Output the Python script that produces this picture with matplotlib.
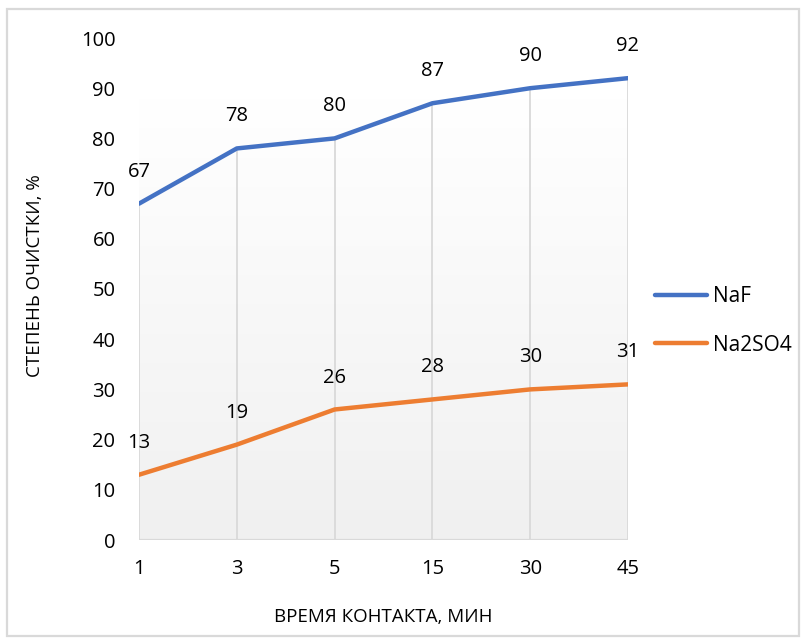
import numpy as np
import matplotlib
matplotlib.use("Agg")
import matplotlib.pyplot as plt
from matplotlib.patches import Rectangle

# Data
contact_time = ["1", "3", "5", "15", "30", "45"]
naf = [67, 78, 80, 87, 90, 92]
na2so4 = [13, 19, 26, 28, 30, 31]
y_ticks = [0, 10, 20, 30, 40, 50, 60, 70, 80, 90, 100]

BLUE = "#4472C4"
ORANGE = "#ED7D31"
GRID = "#d9d9d9"

plt.rcParams["font.family"] = ["Open Sans", "DejaVu Sans"]

W, H = 803, 640
fig = plt.figure(figsize=(W / 100, H / 100), dpi=100)

# outer chart border
fig.patches.append(Rectangle((7 / W, 4 / H), 792 / W, 627 / H, transform=fig.transFigure,
                             fill=False, edgecolor=GRID, linewidth=1.6))

x0, x1 = 139, 628
y_top, y_bot = 38, 540
ax = fig.add_axes([x0 / W, 1 - y_bot / H, (x1 - x0) / W, (y_bot - y_top) / H])

x = np.arange(len(contact_time))

# soft vertical gradient behind the series (white at top to light gray at bottom)
grad = np.linspace(1.0, 0.0, 256).reshape(-1, 1)
top_c = np.array([1.0, 1.0, 1.0])
bot_c = np.array([0xf0, 0xf0, 0xf0]) / 255
img = top_c * grad[..., None] + bot_c * (1 - grad[..., None])
ax.imshow(img, extent=[x[0], x[-1], 0, 88], aspect="auto", origin="upper", zorder=0)
ax.set_xlim(x[0], x[-1])
ax.set_ylim(0, 100)

# drop lines from the upper series down to the axis
ax.vlines(x, 0, naf, colors=GRID, linewidth=1.3, zorder=1)
ax.axhline(0, color=GRID, linewidth=1.6, zorder=1)

l1, = ax.plot(x, naf, color=BLUE, linewidth=3.2, solid_capstyle="round", label="NaF", zorder=3)
l2, = ax.plot(x, na2so4, color=ORANGE, linewidth=3.2, solid_capstyle="round", label="Na2SO4", zorder=3)

for series in (naf, na2so4):
    for xi, v in zip(x, series):
        ax.annotate(str(v), (xi, v), xytext=(0, 23), textcoords="offset points",
                    ha="center", va="center", fontsize=14.5, color="#000000")

for s in ax.spines.values():
    s.set_visible(False)
ax.set_xticks(x)
ax.set_xticklabels(contact_time)
ax.set_yticks(y_ticks)
ax.tick_params(axis="both", length=0, labelsize=14.5, colors="#000000")
ax.tick_params(axis="y", pad=17)
ax.tick_params(axis="x", pad=14)

fig.text(35 / W, 1 - 276 / H, "СТЕПЕНЬ ОЧИСТКИ, %", rotation=90, ha="center", va="center",
         fontsize=13.5)
fig.text(383 / W, 1 - 617 / H, "ВРЕМЯ КОНТАКТА, МИН", ha="center", va="center", fontsize=13.5)

fig.legend(handles=[l1, l2], loc="center left", bbox_to_anchor=(636 / W, 1 - 321 / H),
           frameon=False, fontsize=15, handlelength=2.5, labelspacing=1.3,
           handletextpad=0.3)

fig.savefig("out.png", dpi=100, facecolor="white")
